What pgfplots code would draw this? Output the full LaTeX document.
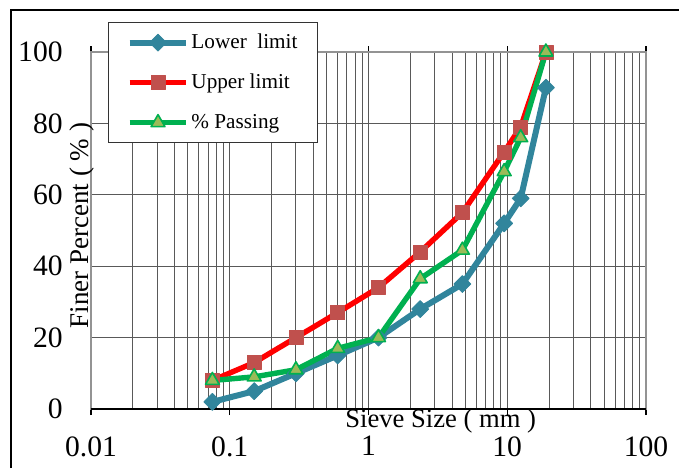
\documentclass[border=0pt]{standalone}
\usepackage{fontspec}
\setmainfont{Liberation Serif}
\usepackage{pgfplots}
\pgfplotsset{compat=1.18}
\definecolor{lowc}{HTML}{31859C}
\definecolor{upc}{HTML}{FF0000}
\definecolor{upm}{HTML}{C0504D}
\definecolor{pasc}{HTML}{00B050}
\definecolor{pasm}{HTML}{9BBB59}
\begin{document}
\begin{tikzpicture}
\useasboundingbox (0,0) rectangle (339.5pt,234pt);
\begin{axis}[
  at={(45.5pt,29.5pt)}, anchor=south west,
  scale only axis, width=277.5pt, height=178.5pt,
  xmode=log, log basis x=10,
  xmin=0.01, xmax=100, ymin=0, ymax=100,
  xtick={0.01,0.1,1,10,100}, xticklabels={0.01,0.1,1,10,100},
  minor xtick={0.02,0.03,0.04,0.05,0.06,0.07,0.08,0.09,
    0.2,0.3,0.4,0.5,0.6,0.7,0.8,0.9,
    2,3,4,5,6,7,8,9,
    20,30,40,50,60,70,80,90},
  ytick={0,20,40,60,80,100},
  /pgf/number format/assume math mode=true,
  tick label style={font=\fontsize{14.8}{16}\selectfont},
  xticklabel style={anchor=north, inner sep=0pt, yshift=-10.5pt},
  yticklabel style={anchor=east, inner sep=0pt, xshift=-11pt},
  tick align=outside, major tick length=3pt, minor tick length=0pt,
  ytick style={draw=none},
  xtick style={black, line width=0.6pt},
  xminorgrids=true, xmajorgrids=true, ymajorgrids=true,
  major grid style={black!65, line width=0.5pt},
  minor grid style={black!65, line width=0.5pt},
  axis line style={gray!85, line width=1pt},
  clip=false,
  xlabel={Sieve Size ( mm )},
  xlabel style={at={(axis description cs:0.63,0)}, anchor=north, inner sep=0pt, yshift=0pt, font=\fontsize{13.3}{15}\selectfont},
  ylabel={Finer Percent ( \% )},
  ylabel style={at={(axis description cs:-0.016,0.514)}, anchor=center, inner sep=0pt, font=\fontsize{13.5}{15}\selectfont},
  legend style={at={(axis description cs:0.0306,1.084)}, anchor=north west,
    draw=black!80, line width=0.6pt, fill=white,
    font=\fontsize{10.6}{12}\selectfont,
    inner xsep=9pt, inner ysep=4pt, row sep=8pt,
    nodes={inner sep=1pt, text height=8pt, text depth=2pt, anchor=west}},
  legend cell align=left,
  legend image code/.code={\draw[mark repeat=2, mark phase=2] plot coordinates {(0cm,0cm) (0.5cm,0cm) (1cm,0cm)};},
]
\draw[black, line width=0.8pt] (rel axis cs:0,0) -- (rel axis cs:1,0);
\addplot[lowc, line width=3pt, line join=round, mark=square*, mark size=3pt,
  mark options={rotate=45, fill=lowc, draw=lowc, line width=0.4pt}]
  coordinates {(0.075,2)(0.15,5)(0.3,10)(0.6,15)(1.18,20)(2.36,28)(4.75,35)(9.5,52)(12.5,59)(19,90)};
\addlegendentry{Lower\ \ limit}
\addplot[upc, line width=2.7pt, line join=round, mark=square*, mark size=3.5pt,
  mark options={fill=upm, draw=upm, line width=0.3pt}]
  coordinates {(0.075,8)(0.15,13)(0.3,20)(0.6,27)(1.18,34)(2.36,44)(4.75,55)(9.5,72)(12.5,79)(19,100)};
\addlegendentry{Upper limit}
\addplot[pasc, line width=2.7pt, line join=round, mark=triangle*, mark size=4pt,
  mark options={fill=pasm, draw=pasc, line width=0.8pt}]
  coordinates {(0.075,8)(0.15,9)(0.3,11)(0.6,17)(1.18,20)(2.36,36.5)(4.75,44.5)(9.5,66.5)(12.5,76)(19,100)};
\addlegendentry{\% Passing}
\end{axis}
\draw[black, line width=0.6pt] (5.5pt,0pt) -- (5.5pt,229pt) -- (345pt,229pt);
\end{tikzpicture}
\end{document}
